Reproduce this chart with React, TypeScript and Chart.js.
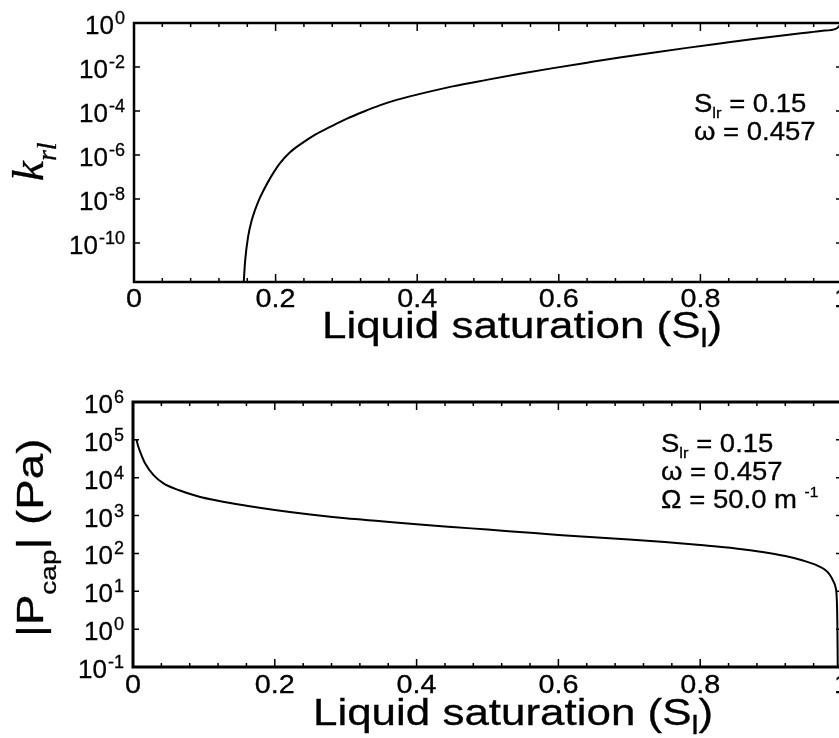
import React, { useEffect, useRef } from "react";
import { Chart, registerables } from "chart.js";

Chart.register(...registerables);

// ---------- data ----------
// Top panel: relative permeability of liquid vs liquid saturation
const satTop = [
  0.155, 0.157, 0.161, 0.166, 0.171, 0.177, 0.183, 0.194, 0.206, 0.22, 0.237,
  0.256, 0.277, 0.3, 0.324, 0.347, 0.371, 0.404, 0.45, 0.498, 0.545, 0.592,
  0.64, 0.686, 0.735, 0.781, 0.83, 0.875, 0.91, 0.945, 0.97, 0.992, 1.0,
];
const krlValues = [
  1.7e-12, 1.6e-11, 1.8e-10, 1.0e-9, 3.2e-9, 1.0e-8, 2.5e-8, 1.1e-7, 4.2e-7,
  1.3e-6, 3.4e-6, 8.5e-6, 1.9e-5, 4.4e-5, 9.3e-5, 1.8e-4, 3.2e-4, 6.0e-4,
  1.32e-3, 2.6e-3, 4.9e-3, 8.9e-3, 1.58e-2, 2.7e-2, 4.6e-2, 7.4e-2, 0.12,
  0.186, 0.257, 0.347, 0.437, 0.56, 1.0,
];

// Bottom panel: |capillary pressure| vs liquid saturation
const satBottom = [
  0.005, 0.007, 0.01, 0.017, 0.029, 0.043, 0.066, 0.09, 0.12, 0.16, 0.2, 0.25,
  0.3, 0.35, 0.4, 0.45, 0.5, 0.55, 0.6, 0.65, 0.7, 0.75, 0.8, 0.85, 0.89, 0.92,
  0.945, 0.964, 0.976, 0.983, 0.988, 0.991, 0.9925, 0.9934, 0.994,
];
const pcapValues = [
  1.0e5, 7.1e4, 4.9e4, 2.4e4, 1.17e4, 7.1e3, 4.6e3, 3.3e3, 2.45e3, 1.82e3,
  1.41e3, 1.07e3, 850, 710, 590, 500, 427, 363, 309, 269, 234, 200, 166, 135,
  107, 85, 65, 49, 37, 27, 18, 12.6, 7.2, 1.7, 0.1,
];

// ticks
const xMajorTicks = [0, 0.2, 0.4, 0.6, 0.8, 1.0];
const xTickLabels = ["0", "0.2", "0.4", "0.6", "0.8", "1"];
const xMinorTicks = [
  0.04, 0.08, 0.12, 0.16, 0.24, 0.28, 0.32, 0.36, 0.44, 0.48, 0.52, 0.56,
  0.64, 0.68, 0.72, 0.76, 0.84, 0.88, 0.92, 0.96,
];
const topYExponents = [0, -2, -4, -6, -8, -10];
const bottomYExponents = [6, 5, 4, 3, 2, 1, 0, -1];

const topYMin = 1.7e-12;
const topYMax = 1;
const bottomYMin = 0.1;
const bottomYMax = 1e6;

// ---------- drawing helpers ----------
const SANS = '"Liberation Sans", Arial, Helvetica, sans-serif';
const SERIF = '"Liberation Serif", "Times New Roman", serif';
const TEXT_STROKE = 0.3;

type Seg = { t: string; size: number; dy?: number; family?: string; style?: string };

function fillBold(ctx: CanvasRenderingContext2D, t: string, x: number, y: number) {
  ctx.fillText(t, x, y);
  ctx.lineWidth = TEXT_STROKE;
  ctx.strokeStyle = "#000";
  ctx.strokeText(t, x, y);
}

function drawRich(ctx: CanvasRenderingContext2D, segs: Seg[], stretch: number) {
  ctx.save();
  ctx.scale(stretch, 1);
  let cx = 0;
  for (const s of segs) {
    ctx.font = `${s.style || ""} ${s.size}px ${s.family || SANS}`;
    ctx.textAlign = "left";
    ctx.textBaseline = "alphabetic";
    fillBold(ctx, s.t, cx, s.dy || 0);
    cx += ctx.measureText(s.t).width;
  }
  ctx.restore();
}

function richAt(ctx: CanvasRenderingContext2D, segs: Seg[], x: number, y: number, stretch: number, rot = 0) {
  ctx.save();
  ctx.translate(x, y);
  if (rot) ctx.rotate(rot);
  drawRich(ctx, segs, stretch);
  ctx.restore();
}

function drawFrame(
  chart: any,
  o: {
    border: number;
    yExps: number[];
    labelRight: number;
    xLabelBaseline: number;
  }
) {
  const { ctx, chartArea: a, scales } = chart;
  const xs = scales.x;
  const ys = scales.y;
  ctx.save();
  ctx.strokeStyle = "#000";
  ctx.fillStyle = "#000";
  // ticks
  ctx.lineWidth = 1.5;
  ctx.beginPath();
  for (const v of xMajorTicks) {
    const px = xs.getPixelForValue(v);
    ctx.moveTo(px, a.bottom);
    ctx.lineTo(px, a.bottom - 8);
    ctx.moveTo(px, a.top);
    ctx.lineTo(px, a.top + 8);
  }
  for (const v of xMinorTicks) {
    const px = xs.getPixelForValue(v);
    ctx.moveTo(px, a.bottom);
    ctx.lineTo(px, a.bottom - 4);
    ctx.moveTo(px, a.top);
    ctx.lineTo(px, a.top + 4);
  }
  for (const e of o.yExps) {
    const py = ys.getPixelForValue(Math.pow(10, e));
    ctx.moveTo(a.left, py);
    ctx.lineTo(a.left + 6, py);
    ctx.moveTo(a.right, py);
    ctx.lineTo(a.right - 6, py);
  }
  ctx.stroke();
  // border
  ctx.lineWidth = o.border;
  ctx.strokeRect(a.left, a.top, a.right - a.left, a.bottom - a.top);

  // y tick labels: 10^e
  for (const e of o.yExps) {
    const py = ys.getPixelForValue(Math.pow(10, e));
    const expStr = e < 0 ? "-" + Math.abs(e) : String(e);
    ctx.font = `18px ${SANS}`;
    const ew = ctx.measureText(expStr).width;
    ctx.font = `26px ${SANS}`;
    const tw = ctx.measureText("10").width;
    ctx.textAlign = "left";
    ctx.textBaseline = "alphabetic";
    fillBold(ctx, "10", o.labelRight - ew - 1 - tw, py + 11);
    ctx.font = `18px ${SANS}`;
    fillBold(ctx, expStr, o.labelRight - ew, py + 1);
  }
  // x tick labels
  xMajorTicks.forEach((v, i) => {
    const px = xs.getPixelForValue(v);
    ctx.save();
    ctx.translate(px, o.xLabelBaseline);
    ctx.scale(1.15, 1);
    ctx.font = `25px ${SANS}`;
    ctx.textAlign = "center";
    ctx.textBaseline = "alphabetic";
    fillBold(ctx, xTickLabels[i], 0, 0);
    ctx.restore();
  });
  ctx.restore();
}

function xTitle(ctx: CanvasRenderingContext2D, x: number, y: number) {
  richAt(
    ctx,
    [
      { t: "Liquid saturation (S", size: 36 },
      { t: "l", size: 26, dy: 9 },
      { t: ")", size: 36 },
    ],
    x,
    y,
    1.22
  );
}

const topPlugin = {
  id: "topFrame",
  afterDraw(chart: any) {
    const ctx = chart.ctx as CanvasRenderingContext2D;
    drawFrame(chart, { border: 2.5, yExps: topYExponents, labelRight: 125, xLabelBaseline: chart.chartArea.bottom + 25 });
    ctx.save();
    ctx.fillStyle = "#000";
    xTitle(ctx, 322, 338);
    // y title k_rl
    richAt(
      ctx,
      [
        { t: "k", size: 45, style: "italic", family: SERIF },
        { t: "rl", size: 28, style: "italic", family: SERIF, dy: 13 },
      ],
      43,
      181,
      1.0,
      -Math.PI / 2
    );
    // annotation
    richAt(
      ctx,
      [
        { t: "S", size: 25 },
        { t: "lr", size: 15, dy: 6 },
        { t: " = 0.15", size: 25 },
      ],
      694,
      112,
      1.1
    );
    richAt(ctx, [{ t: "\u03c9 = 0.457", size: 25 }], 694, 140, 1.1);
    ctx.restore();
  },
};

const bottomPlugin = {
  id: "bottomFrame",
  afterDraw(chart: any) {
    const ctx = chart.ctx as CanvasRenderingContext2D;
    drawFrame(chart, { border: 3, yExps: bottomYExponents, labelRight: 124, xLabelBaseline: chart.chartArea.bottom + 26 });
    ctx.save();
    ctx.fillStyle = "#000";
    xTitle(ctx, 313, 356);
    richAt(
      ctx,
      [
        { t: "|P", size: 36 },
        { t: "cap", size: 22, dy: 13 },
        { t: "| (Pa)", size: 36 },
      ],
      43,
      268,
      1.27,
      -Math.PI / 2
    );
    richAt(
      ctx,
      [
        { t: "S", size: 25 },
        { t: "lr", size: 15, dy: 6 },
        { t: " = 0.15", size: 25 },
      ],
      661,
      83,
      1.1
    );
    richAt(ctx, [{ t: "\u03c9 = 0.457", size: 25 }], 661, 111, 1.1);
    richAt(
      ctx,
      [
        { t: "\u03a9 = 50.0 m ", size: 25 },
        { t: "-1", size: 14, dy: -11 },
      ],
      661,
      139,
      1.1
    );
    ctx.restore();
  },
};

function makeConfig(
  xsArr: number[],
  ysArr: number[],
  yMin: number,
  yMax: number,
  padding: { left: number; right: number; top: number; bottom: number },
  plugin: any
): any {
  return {
    type: "line",
    data: {
      datasets: [
        {
          data: xsArr.map((s, i) => ({ x: s, y: ysArr[i] })),
          borderColor: "#000",
          borderWidth: 2,
          pointRadius: 0,
          fill: false,
          cubicInterpolationMode: "monotone",
        },
      ],
    },
    options: {
      responsive: false,
      maintainAspectRatio: false,
      animation: false,
      devicePixelRatio: 1,
      events: [],
      layout: { padding },
      scales: {
        x: { type: "linear", min: 0, max: 1, display: false },
        y: { type: "logarithmic", min: yMin, max: yMax, display: false },
      },
      plugins: {
        legend: { display: false },
        tooltip: { enabled: false },
        title: { display: false },
      },
    },
    plugins: [plugin],
  };
}

export default function App() {
  const topRef = useRef<HTMLCanvasElement>(null);
  const botRef = useRef<HTMLCanvasElement>(null);

  useEffect(() => {
    const c1 = new Chart(
      topRef.current as HTMLCanvasElement,
      makeConfig(satTop, krlValues, topYMin, topYMax, { left: 134, right: 8, top: 23, bottom: 87 }, topPlugin)
    );
    const c2 = new Chart(
      botRef.current as HTMLCanvasElement,
      makeConfig(satBottom, pcapValues, bottomYMin, bottomYMax, { left: 133, right: 8, top: 33, bottom: 71 }, bottomPlugin)
    );
    return () => {
      c1.destroy();
      c2.destroy();
    };
  }, []);

  return (
    <div
      style={{
        position: "absolute",
        left: 0,
        top: 0,
        width: 839,
        height: 738,
        overflow: "hidden",
        background: "#fff",
      }}
    >
      <canvas ref={topRef} width={850} height={369} style={{ display: "block", width: 850, height: 369 }} />
      <canvas ref={botRef} width={850} height={369} style={{ display: "block", width: 850, height: 369 }} />
    </div>
  );
}
